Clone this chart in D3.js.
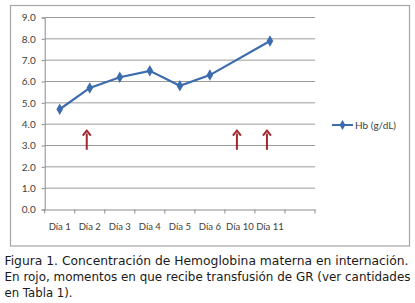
<!DOCTYPE html>
<html>
<head>
<meta charset="utf-8">
<script src="https://cdn.jsdelivr.net/npm/d3@7"></script>
<style>
  body { margin: 0; background: #fff; }
  svg { display: block; }
</style>
</head>
<body>
<div id="chart"></div>
<script>
// Data
const days = ["Día 1", "Día 2", "Día 3", "Día 4", "Día 5", "Día 6", "Día 10", "Día 11", ""];
const hb = [4.7, 5.7, 6.2, 6.5, 5.8, 6.3, null, 7.9, null];
const transfusionDays = ["Día 2", "Día 10", "Día 11"];
const arrowRange = [2.8, 3.7];
const yTicks = [0, 1, 2, 3, 4, 5, 6, 7, 8, 9];
const seriesName = "Hb (g/dL)";
const caption = [
  "Figura 1. Concentración de Hemoglobina materna en internación.",
  "En rojo, momentos en que recibe transfusión de GR (ver cantidades",
  "en Tabla 1)."
];
const captionWidths = [404, 406, 68];

const W = 415, H = 303;
const plot = { left: 44.7, right: 315, top: 17.5, bottom: 209.5 };
const blue = "#3c6cae";
const red = "#a3262f";

const svg = d3.select("#chart").append("svg")
  .attr("width", W)
  .attr("height", H);

// chart frame
svg.append("rect")
  .attr("x", 10.5).attr("y", 5.5)
  .attr("width", 399).attr("height", 240.5)
  .attr("fill", "#fff")
  .attr("stroke", "#a6a6a6")
  .attr("stroke-width", 1.2);

const x = d3.scaleBand()
  .domain(days)
  .range([plot.left, plot.right])
  .padding(0);

const y = d3.scaleLinear()
  .domain([0, 9])
  .range([plot.bottom, plot.top]);

// gridlines
svg.append("g")
  .selectAll("line")
  .data(yTicks.filter(d => d > 0))
  .enter()
  .append("line")
  .attr("x1", plot.left).attr("x2", plot.right)
  .attr("y1", d => y(d)).attr("y2", d => y(d))
  .attr("stroke", "#9a9a9a")
  .attr("stroke-width", 1);

// y axis
const yAxis = svg.append("g")
  .attr("transform", `translate(${plot.left},0)`)
  .call(d3.axisLeft(y).tickValues(yTicks).tickFormat(d3.format(".1f")).tickSize(3).tickPadding(6));
yAxis.selectAll("text")
  .attr("font-family", "Lato, 'Open Sans', sans-serif")
  .attr("font-size", 10)
  .attr("fill", "#404040");

// x axis
const xAxis = svg.append("g")
  .attr("transform", `translate(0,${plot.bottom})`)
  .call(d3.axisBottom(x).tickSize(0).tickPadding(14));
xAxis.selectAll("text")
  .attr("font-family", "Lato, 'Open Sans', sans-serif")
  .attr("font-size", 9.5)
  .attr("fill", "#404040");
// category boundary ticks
xAxis.append("g")
  .selectAll("line")
  .data(days.map(d => x(d)).concat([plot.right]))
  .enter()
  .append("line")
  .attr("x1", d => d).attr("x2", d => d)
  .attr("y1", 0).attr("y2", 4)
  .attr("stroke", "#8c8c8c");

svg.selectAll(".domain").attr("stroke", "#8c8c8c");
yAxis.selectAll(".tick line").attr("stroke", "#8c8c8c");

// line series (empty cells bridged, as in the original)
const points = days.map((d, i) => ({ day: d, v: hb[i] })).filter(p => p.v !== null);
const cx = d => x(d) + x.bandwidth() / 2;

svg.append("path")
  .datum(points)
  .attr("fill", "none")
  .attr("stroke", blue)
  .attr("stroke-width", 2.2)
  .attr("d", d3.line().x(p => cx(p.day)).y(p => y(p.v)));

svg.append("g")
  .selectAll("path")
  .data(points)
  .enter()
  .append("path")
  .attr("transform", p => `translate(${cx(p.day)},${y(p.v)})`)
  .attr("d", d3.symbol().type(d3.symbolDiamond).size(38))
  .attr("fill", blue);

// transfusion arrows
const arrows = svg.append("g");
transfusionDays.forEach(d => {
  const ax = cx(d) - 3;
  arrows.append("line")
    .attr("x1", ax).attr("x2", ax)
    .attr("y1", y(arrowRange[0])).attr("y2", y(arrowRange[1]) + 3)
    .attr("stroke", red)
    .attr("stroke-width", 2);
  arrows.append("path")
    .attr("d", `M${ax - 4},${y(arrowRange[1]) + 5} L${ax},${y(arrowRange[1])} L${ax + 4},${y(arrowRange[1]) + 5}`)
    .attr("fill", "none")
    .attr("stroke", red)
    .attr("stroke-width", 2);
});

// legend
const legend = svg.append("g").attr("transform", "translate(332,125)");
legend.append("line")
  .attr("x1", 0).attr("x2", 21)
  .attr("stroke", blue).attr("stroke-width", 2);
legend.append("path")
  .attr("transform", "translate(10.5,0)")
  .attr("d", d3.symbol().type(d3.symbolDiamond).size(30))
  .attr("fill", blue);
legend.append("text")
  .attr("x", 23).attr("y", 3.5)
  .attr("font-family", "Lato, 'Open Sans', sans-serif")
  .attr("font-size", 10)
  .attr("fill", "#404040")
  .text(seriesName);

// caption
svg.append("g")
  .selectAll("text")
  .data(caption)
  .enter()
  .append("text")
  .attr("x", 4.5)
  .attr("y", (d, i) => 265 + i * 16)
  .attr("font-family", "'DejaVu Sans', Verdana, sans-serif")
  .attr("font-size", 11.5)
  .attr("fill", "#1a1a1a")
  .attr("textLength", (d, i) => captionWidths[i])
  .attr("lengthAdjust", "spacingAndGlyphs")
  .text(d => d);
</script>
</body>
</html>
